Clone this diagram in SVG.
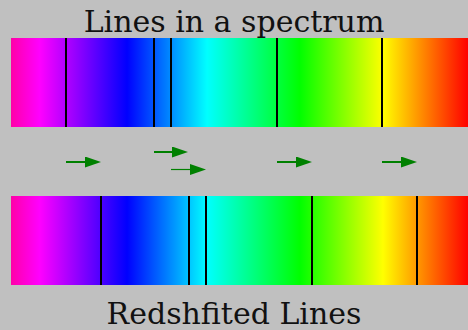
<svg xmlns="http://www.w3.org/2000/svg" width="468" height="330" viewBox="0 0 468 330">
  <style>
    .title { font-family: "DejaVu Serif", "Liberation Serif", serif; font-size: 30px; fill: #111; text-anchor: middle; }
    .line { stroke: #000; stroke-width: 2; }
    .arrow { stroke: #008000; stroke-width: 2; fill: none; marker-end: url(#head); }
    .thin { stroke-width: 1.2; }
  </style>
  <defs>
    <linearGradient id="spec" gradientUnits="userSpaceOnUse" x1="11" y1="0" x2="468" y2="0">
      <stop offset="0" stop-color="#ff00a8"/>
      <stop offset="0.063" stop-color="#ff00ff"/>
      <stop offset="0.254" stop-color="#0000ff"/>
      <stop offset="0.429" stop-color="#00ffff"/>
      <stop offset="0.632" stop-color="#00ff00"/>
      <stop offset="0.814" stop-color="#ffff00"/>
      <stop offset="1" stop-color="#ff0000"/>
    </linearGradient>
    <marker id="head" markerUnits="userSpaceOnUse" markerWidth="16" markerHeight="11" refX="0" refY="5.5" orient="auto" viewBox="0 0 16 11">
      <path d="M0,0 L16,5.5 L0,11 z" fill="#008000"/>
    </marker>
  </defs>
  <rect width="468" height="330" fill="#c0c0c0"/>
  <g id="title-top">
    <text class="title" x="234" y="32">Lines in a spectrum</text>
  </g>
  <g id="spectrum-top">
    <rect x="11" y="38" width="457" height="89" fill="url(#spec)"/>
    <line class="line" x1="66" y1="38" x2="66" y2="127"/>
    <line class="line" x1="154" y1="38" x2="154" y2="127"/>
    <line class="line" x1="171" y1="38" x2="171" y2="127"/>
    <line class="line" x1="277" y1="38" x2="277" y2="127"/>
    <line class="line" x1="382" y1="38" x2="382" y2="127"/>
  </g>
  <g id="spectrum-bottom">
    <rect x="11" y="196" width="457" height="89" fill="url(#spec)"/>
    <line class="line" x1="101" y1="196" x2="101" y2="285"/>
    <line class="line" x1="189" y1="196" x2="189" y2="285"/>
    <line class="line" x1="206" y1="196" x2="206" y2="285"/>
    <line class="line" x1="312" y1="196" x2="312" y2="285"/>
    <line class="line" x1="417" y1="196" x2="417" y2="285"/>
  </g>
  <g id="connectors">
    <line class="arrow" x1="66" y1="162" x2="85" y2="162"/>
    <line class="arrow" x1="154" y1="152" x2="172" y2="152"/>
    <line class="arrow thin" x1="171" y1="169.5" x2="190" y2="169.5"/>
    <line class="arrow" x1="277" y1="162" x2="296" y2="162"/>
    <line class="arrow" x1="382" y1="162" x2="401" y2="162"/>
  </g>
  <g id="title-bottom">
    <text class="title" x="234" y="324">Redshfited Lines</text>
  </g>
</svg>
